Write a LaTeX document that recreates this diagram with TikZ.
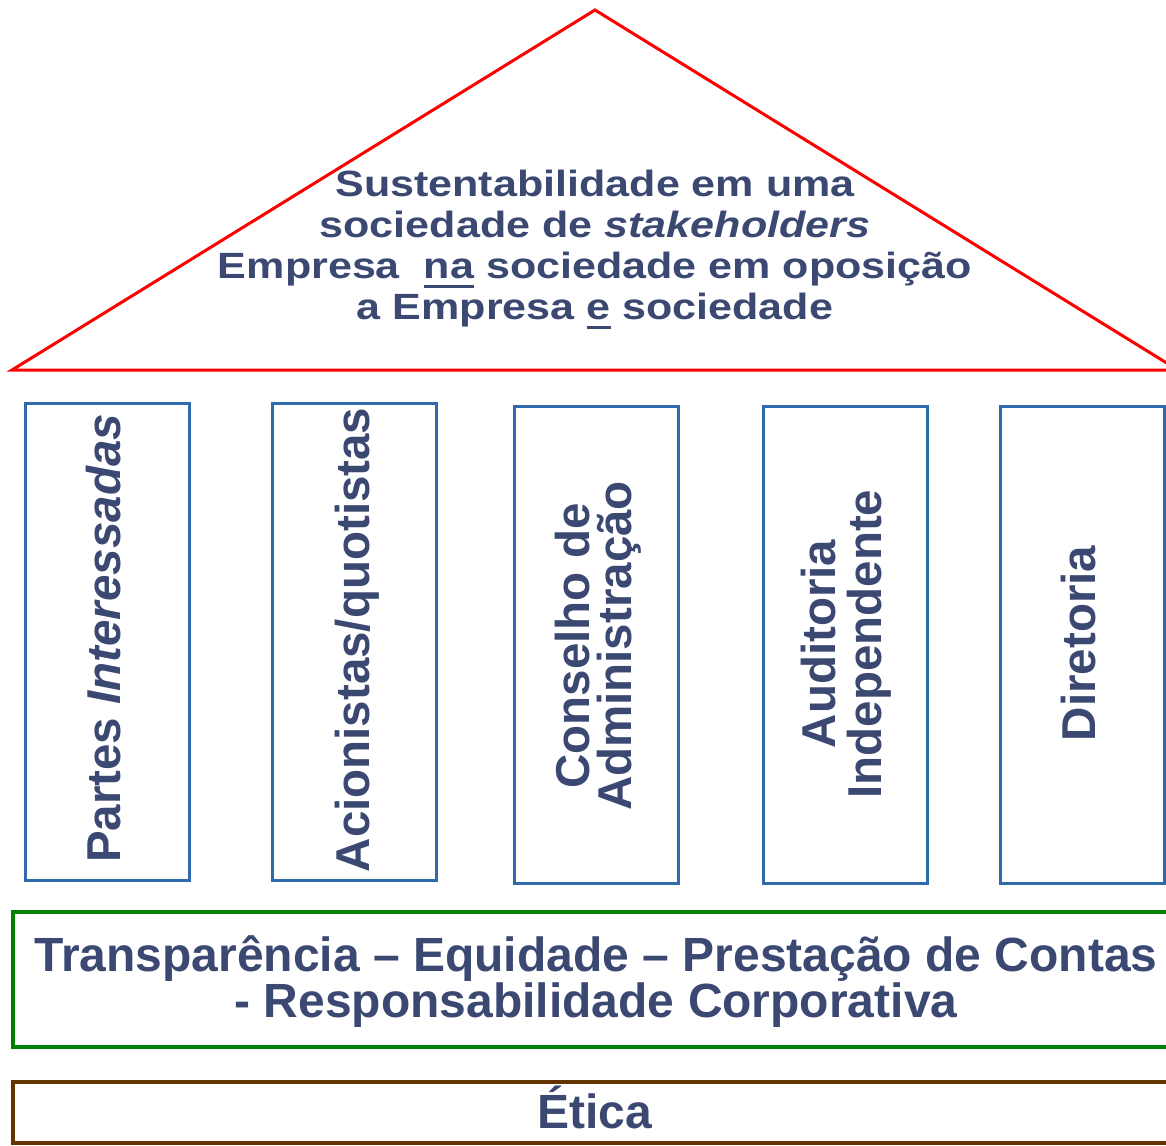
\documentclass[tikz,border=0pt]{standalone}
\usepackage{fontspec}
\setmainfont{Liberation Sans}
\newfontfamily\rooffont[FakeStretch=1.18]{Liberation Sans}
\definecolor{txtc}{RGB}{59,72,114}
\definecolor{pillarc}{RGB}{46,106,172}
\definecolor{greenc}{RGB}{0,128,0}
\definecolor{brownc}{RGB}{99,51,0}
\definecolor{roofc}{RGB}{255,0,0}
\newcommand\myul[1]{\leavevmode\setbox0\hbox{#1}\rlap{\rule[-9pt]{\wd0}{3pt}}\box0\relax}
\begin{document}
\begin{tikzpicture}[x=1pt,y=-1pt,
  roofline/.style={draw=roofc,line width=3pt,line join=miter},
  rooftext/.style={text=txtc,inner sep=0pt,align=center,font=\rooffont\bfseries\fontsize{36.5}{41}\selectfont},
  pillarbox/.style={draw=pillarc,line width=3pt,minimum width=164pt,minimum height=477pt,inner sep=0pt},
  pillartext/.style={text=txtc,inner sep=0pt,align=center,rotate=90,font=\bfseries\fontsize{47.5}{44}\selectfont},
  basebox/.style={line width=4pt,minimum width=1167pt,inner sep=0pt},
  basetext/.style={text=txtc,inner sep=0pt,align=center,font=\bfseries\fontsize{48}{46}\selectfont}]
\useasboundingbox (0,0) rectangle (1166,1145);
% roof
\coordinate (apex) at (595,10);
\coordinate (roofL) at (12,370);
\coordinate (roofR) at (1178,370);
\draw[roofline] (roofL) -- (apex) -- (roofR) -- cycle;
\node[rooftext,anchor=north] (roof) at (595,170)
  {Sustentabilidade em uma\\
   sociedade de \textit{stakeholders}\\
   Empresa\ \ \myul{na} sociedade em oposição\\
   a Empresa \myul{e} sociedade};
% pillars
\node[pillarbox] (p1) at (107,641.5) {};
\node[pillarbox] (p2) at (354,641.5) {};
\node[pillarbox] (p3) at (596,644.5) {};
\node[pillarbox] (p4) at (845,644.5) {};
\node[pillarbox] (p5) at (1082,644.5) {};
\node[pillartext] (t1) at (103.5,638.5) {Partes \textit{Interessadas}};
\node[pillartext] (t2) at (357,640) {Acionistas/quotistas};
\node[pillartext,font=\bfseries\fontsize{47.5}{42}\selectfont] (t3) at (598,646) {Conselho de\\Administração};
\node[pillartext,font=\bfseries\fontsize{47.5}{46}\selectfont] (t4) at (846,644) {Auditoria\\Independente};
\node[pillartext] (t5) at (1079,643.5) {Diretoria};
% base
\node[basebox,draw=greenc,minimum height=135pt] (vals) at (596.5,979.5) {};
\node[basetext,anchor=north] (valstext) at (596,935)
  {Transparência – Equidade – Prestação de Contas\\- Responsabilidade Corporativa};
\node[basebox,draw=brownc,minimum height=61pt] (etica) at (596.5,1112.5) {};
\node[basetext,anchor=base] (eticatext) at (595,1128) {Ética};
\end{tikzpicture}
\end{document}
